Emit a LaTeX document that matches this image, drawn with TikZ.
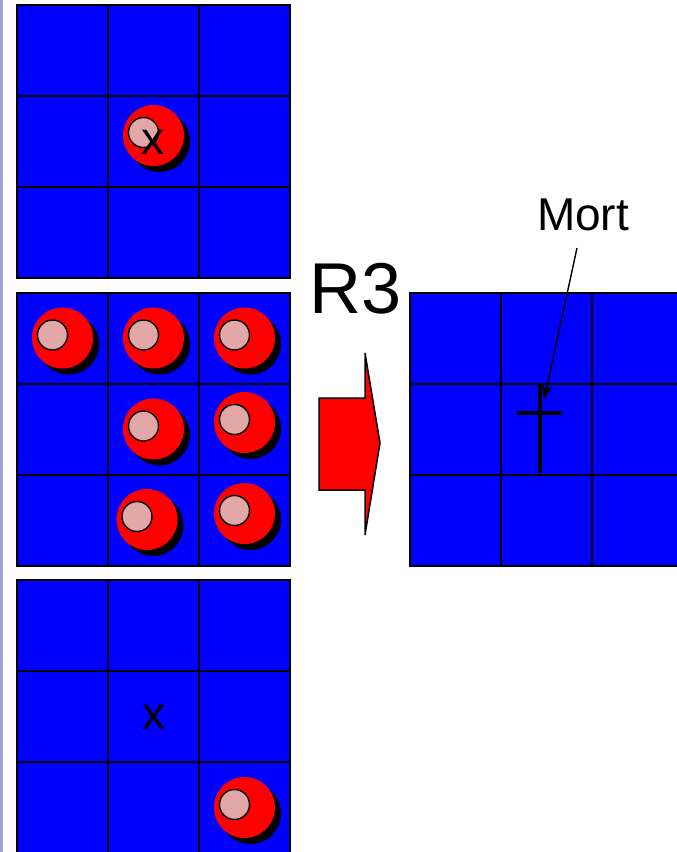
\documentclass[tikz,border=0pt]{standalone}
\usepackage{fontspec}
\setmainfont{Liberation Sans}
\usepackage{tikz}
\usetikzlibrary{arrows,arrows.meta,positioning,calc}

\definecolor{bleu}{RGB}{0,0,255}
\definecolor{rose}{RGB}{226,168,168}
\definecolor{lavande}{RGB}{160,160,210}

% un pion : ombre, disque rouge, bouton rose
\newcommand{\pion}[2]{%
  \fill[black] (#1+6,#2+6) circle (30.5pt);
  \fill[red] (#1,#2) circle (30.5pt);
  \draw[line width=1.4pt,fill=rose] (#1-10,#2-3) circle (15pt);
}
% une grille 3x3
\newcommand{\grille}[2]{%
  \foreach \i in {0,1,2}{\foreach \j in {0,1,2}{
    \draw[case] (#1+91*\i,#2+91*\j) rectangle ++(91,91);}}
}

\begin{document}
\begin{tikzpicture}[x=1pt,y=-1pt,case/.style={draw=black,line width=1.8pt,fill=bleu},
  label/.style={inner sep=0pt,anchor=base,font=\fontsize{46}{46}\selectfont},
  edge/.style={line width=1.4pt,-{Stealth[length=16pt,width=11pt]}},
  fleche/.style={draw=black,line width=1.5pt,fill=red,line join=miter},
  croix/.style={line width=4pt}]
\useasboundingbox (0,0) rectangle (677,852);
\clip (0,0) rectangle (677,852);

\fill[lavande] (0,0) rectangle (2.5,852);

\grille{17}{5}
\grille{17}{293}
\grille{17}{580}
\grille{410}{293}

\pion{153.5}{135.5}
\node(xhaut)[label] at (153,154) {x};

\pion{62.5}{338}
\pion{153.5}{338}
\pion{244.5}{338}
\pion{153.5}{429}
\pion{244.5}{422.5}
\pion{147}{519.5}
\pion{244.5}{513.5}

\node(xbas)[label] at (154,729) {x};
\pion{244.5}{807.5}

\draw[fleche] (319,398) -- (365,398) -- (365,353) -- (380,443) -- (365,535) -- (365,490) -- (319,490) -- cycle;
\node(r3)[label,font=\fontsize{72}{72}\selectfont] at (356,313) {R3};

\draw[croix] (540,383) -- (540,473);
\draw[croix] (517,413) -- (562,413);

\node(mort)[label] at (583,230) {Mort};
\coordinate(depart) at ([xshift=-6pt,yshift=-18pt]mort.base);
\coordinate(cible) at (544,400);
\draw[edge] (depart) -- (cible);
\end{tikzpicture}
\end{document}
